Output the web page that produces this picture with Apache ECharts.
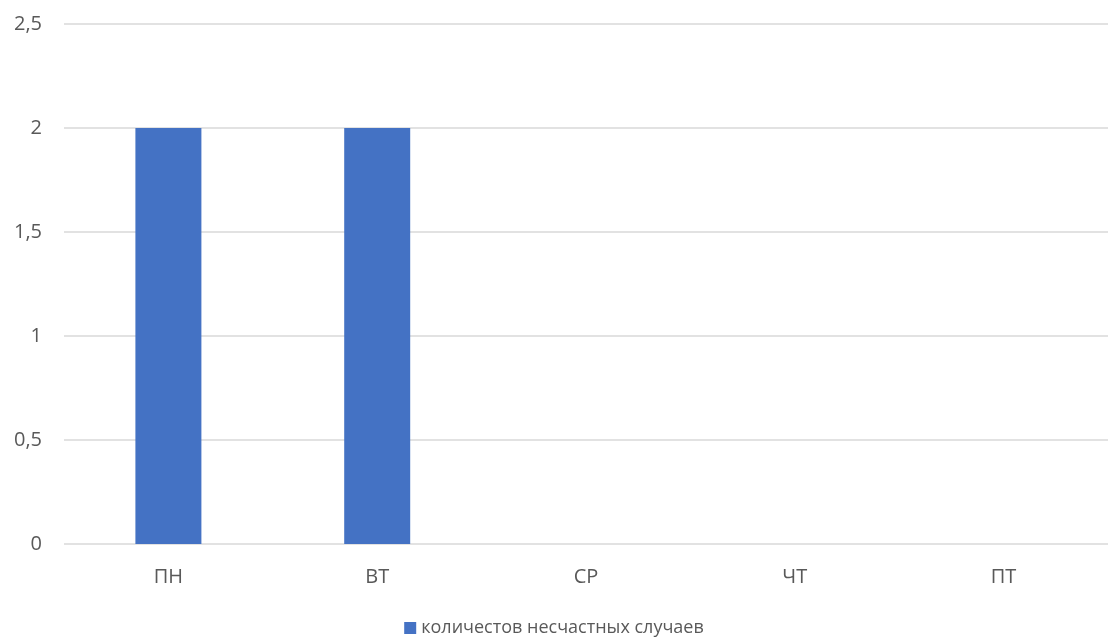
<!DOCTYPE html>
<html>
<head>
<meta charset="utf-8">
<script src="https://cdn.jsdelivr.net/npm/echarts@6/dist/echarts.min.js"></script>
<style>
  html, body { margin: 0; padding: 0; background: #ffffff; }
  #chart { width: 1108px; height: 639px; }
</style>
</head>
<body>
<div id="chart"></div>
<script>
// Days of the week and accident counts per day
const days = ['ПН', 'ВТ', 'СР', 'ЧТ', 'ПТ'];
const accidents = [2, 2, 0, 0, 0];
const seriesName = 'количестов несчастных случаев';

const labelColor = '#595959';
const fontFamily = '"Open Sans", "Noto Sans", sans-serif';

const chart = echarts.init(document.getElementById('chart'), null, { renderer: 'canvas' });
chart.setOption({
  animation: false,
  backgroundColor: '#ffffff',
  grid: { left: 64, top: 24, width: 1050, height: 520, containLabel: false },
  legend: {
    top: 614,
    left: 'center',
    itemWidth: 12,
    itemHeight: 12,
    itemGap: 10,
    icon: 'rect',
    textStyle: { color: labelColor, fontSize: 18, fontFamily: fontFamily, lineHeight: 18 },
    data: [seriesName]
  },
  xAxis: {
    type: 'category',
    data: days,
    axisLine: { show: false },
    axisTick: { show: false },
    axisLabel: { color: labelColor, fontSize: 20, fontFamily: fontFamily, margin: 23 }
  },
  yAxis: {
    type: 'value',
    min: 0,
    max: 2.5,
    interval: 0.5,
    axisLine: { show: false },
    axisTick: { show: false },
    splitLine: { lineStyle: { color: '#d9d9d9', width: 1.5 } },
    axisLabel: {
      color: labelColor,
      fontSize: 20,
      fontFamily: fontFamily,
      margin: 22,
      formatter: v => String(v).replace('.', ',')
    }
  },
  series: [{
    name: seriesName,
    type: 'bar',
    data: accidents,
    barWidth: 66,
    itemStyle: { color: '#4472c4' }
  }]
});
</script>
</body>
</html>
